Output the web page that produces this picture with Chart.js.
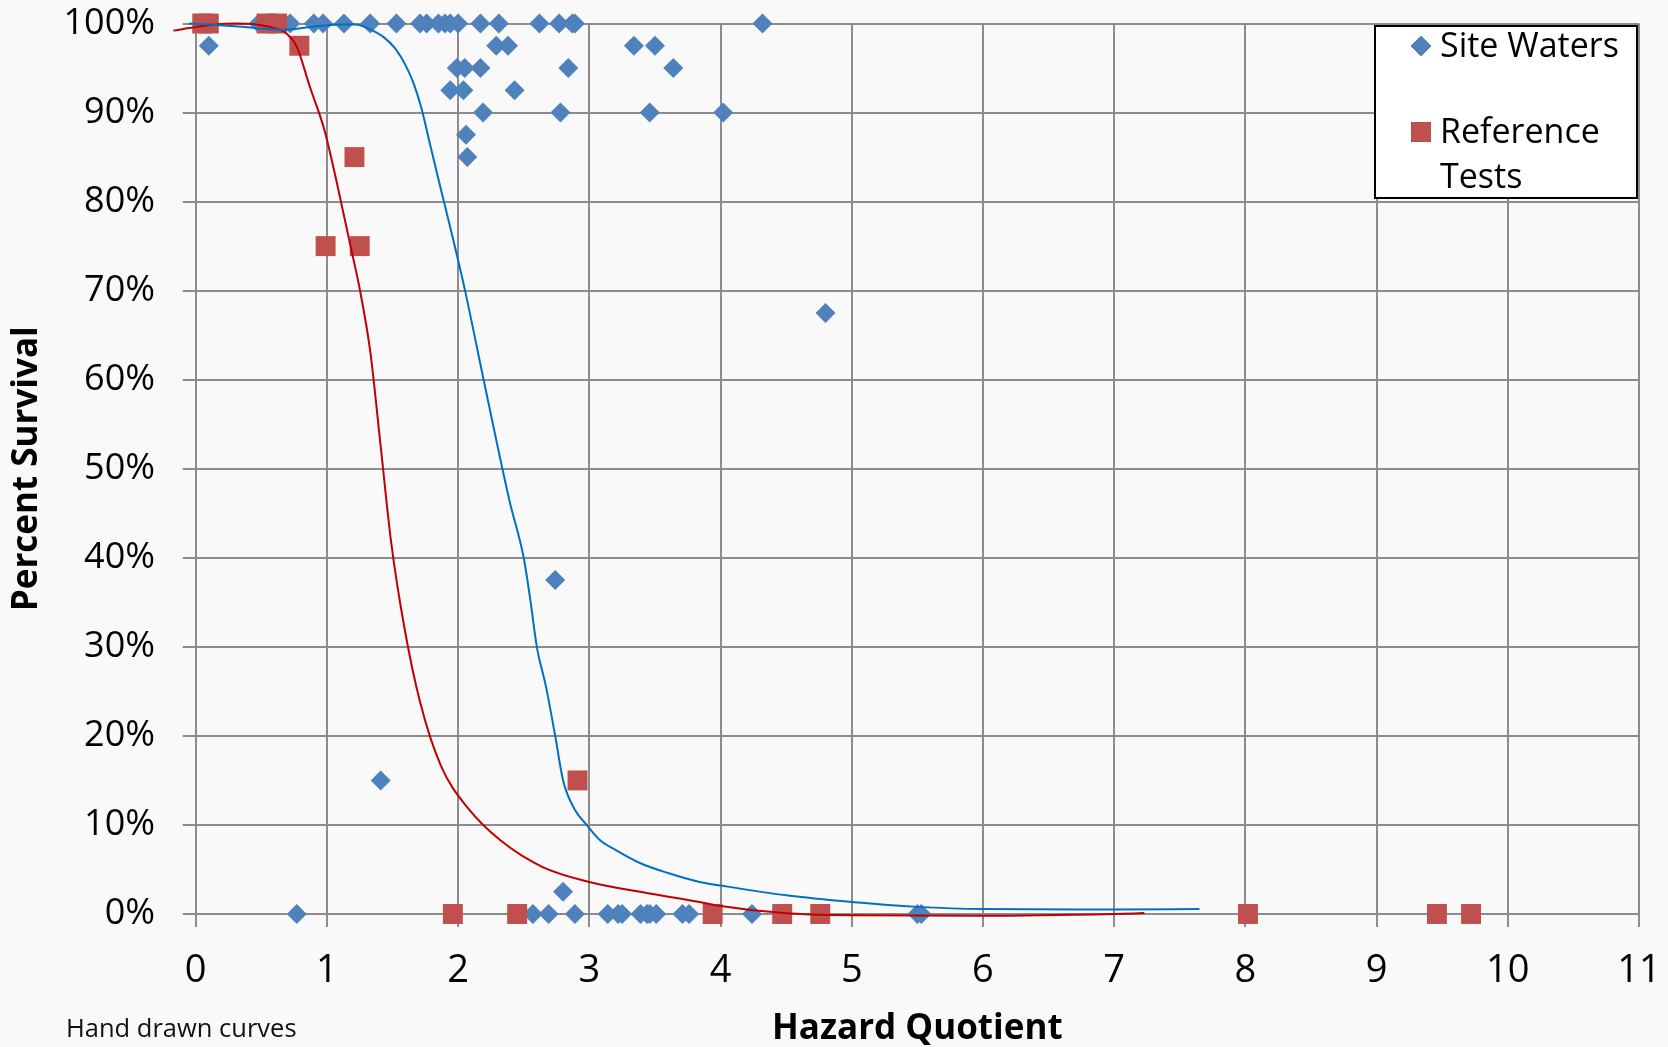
<!DOCTYPE html>
<html>
<head>
<meta charset="utf-8">
<title>Percent Survival vs Hazard Quotient</title>
<script src="https://cdn.jsdelivr.net/npm/chart.js@4.4.1/dist/chart.umd.min.js"></script>
<style>
  html, body { margin: 0; padding: 0; background: #f9f9f9; }
  #wrap { width: 1668px; height: 1047px; position: relative; }
</style>
</head>
<body>
<div id="wrap"><canvas id="chart" width="1668" height="1047"></canvas></div>
<script>
// ---- Axis ticks ----
const xTickValues = [0, 1, 2, 3, 4, 5, 6, 7, 8, 9, 10, 11];
const yTickValues = [0, 10, 20, 30, 40, 50, 60, 70, 80, 90, 100];

// ---- Site waters: hazard quotient and percent survival ----
const siteHQ = [
  0.48, 0.72, 0.90, 0.97, 1.13, 1.33, 1.53, 1.71, 1.76, 1.85, 1.90, 1.94, 2.00, 2.17, 2.31, 2.62, 2.77, 2.87, 2.89, 4.32,
  0.10, 2.29, 2.38, 3.34, 3.50,
  1.99, 2.05, 2.17, 2.84, 3.64,
  1.94, 2.04, 2.43,
  2.19, 2.78, 3.46, 4.02,
  2.06, 2.07,
  4.80, 2.74, 1.41, 2.80,
  0.77, 2.57, 2.69, 2.89, 3.14, 3.22, 3.25, 3.39, 3.44, 3.46, 3.51, 3.71, 3.76, 4.24, 5.50, 5.53
];
const siteSurvival = [
  100, 100, 100, 100, 100, 100, 100, 100, 100, 100, 100, 100, 100, 100, 100, 100, 100, 100, 100, 100,
  97.5, 97.5, 97.5, 97.5, 97.5,
  95, 95, 95, 95, 95,
  92.5, 92.5, 92.5,
  90, 90, 90, 90,
  87.5, 85,
  67.5, 37.5, 15, 2.5,
  0, 0, 0, 0, 0, 0, 0, 0, 0, 0, 0, 0, 0, 0, 0, 0
];

// ---- Reference tests ----
const refHQ = [0.05, 0.10, 0.54, 0.62, 0.79, 1.21, 0.99, 1.25, 2.91, 1.96, 2.45, 3.94, 4.47, 4.76, 8.02, 9.46, 9.72];
const refSurvival = [100, 100, 100, 100, 97.5, 85, 75, 75, 15, 0, 0, 0, 0, 0, 0, 0, 0];

// ---- Hand drawn curves ----
const siteCurveHQ = [-0.05, 0.30, 0.67, 0.87, 1.10, 1.22, 1.32, 1.43, 1.52, 1.60, 1.66, 1.72, 1.78, 1.85, 1.95, 2.05, 2.20, 2.39, 2.50, 2.55, 2.60, 2.67, 2.74, 2.80, 2.89, 2.98, 3.08, 3.20, 3.39, 3.60, 3.84, 4.00, 4.50, 5.00, 5.50, 6.00, 7.00, 7.65];
const siteCurveSurvival = [100, 99.7, 99.3, 99.6, 99.9, 99.9, 99.4, 98.5, 97.2, 95.3, 93.3, 90.5, 86.8, 82.5, 76.5, 70.2, 59.6, 46.5, 40, 35.3, 30, 25.5, 20, 15, 11.7, 10, 8.3, 7.2, 5.7, 4.6, 3.6, 3.2, 2.1, 1.35, 0.8, 0.55, 0.5, 0.55];

const refCurveHQ = [-0.17, 0.00, 0.15, 0.30, 0.46, 0.64, 0.69, 0.77, 0.87, 0.98, 1.07, 1.18, 1.25, 1.33, 1.41, 1.49, 1.59, 1.71, 1.87, 2.08, 2.32, 2.64, 3.00, 3.46, 3.84, 4.00, 4.48, 5.00, 6.00, 7.00, 7.23];
const refCurveSurvival = [99.2, 99.6, 99.9, 100, 99.9, 99.3, 98.9, 97.4, 92.9, 88.1, 82.5, 75.0, 70.2, 63.2, 52.5, 41.7, 32.2, 23.8, 16.6, 11.8, 8.3, 5.3, 3.6, 2.3, 1.35, 0.9, 0.1, -0.15, -0.2, 0.0, 0.1];

const seriesNames = ['Site Waters', 'Reference Tests'];
const markerColors = ['#4F81BD', '#C0504D'];
const curveColors = ['#0070C0', '#C00000'];

const pairs = (xs, ys) => xs.map((x, i) => ({ x: x, y: ys[i] }));

const FONT = "'Open Sans', 'Noto Sans', sans-serif";
const GRID = '#8c8c8c';

// paint the page-grey background behind everything
const backgroundPlugin = {
  id: 'backgroundFill',
  beforeDraw(chart) {
    const ctx = chart.ctx;
    ctx.save();
    ctx.fillStyle = '#f9f9f9';
    ctx.fillRect(0, 0, chart.width, chart.height);
    ctx.restore();
  }
};

// boxed legend in the upper right, labels wrapped onto several lines
const boxLegendPlugin = {
  id: 'boxLegend',
  afterDraw(chart) {
    const ctx = chart.ctx;
    const box = { left: 1375, top: 26, right: 1637, bottom: 198 };
    ctx.save();
    ctx.fillStyle = '#ffffff';
    ctx.fillRect(box.left, box.top, box.right - box.left, box.bottom - box.top);
    ctx.lineWidth = 2;
    ctx.strokeStyle = '#000000';
    ctx.strokeRect(box.left, box.top, box.right - box.left, box.bottom - box.top);

    ctx.font = '34px ' + FONT;
    ctx.textBaseline = 'alphabetic';
    ctx.textAlign = 'left';
    const markerX = 1421, textX = 1440, firstBaseline = 57, itemGap = 86, lineGap = 45, maxWidth = 190;
    const markerSets = chart.data.datasets
      .filter(d => d.showInLegend)
      .sort((a, b) => seriesNames.indexOf(a.label) - seriesNames.indexOf(b.label));
    markerSets.forEach((ds, i) => {
      const base = firstBaseline + i * itemGap;
      // wrap the label by words
      const words = ds.label.split(' ');
      const lines = [];
      let cur = '';
      words.forEach(w => {
        const t = cur ? cur + ' ' + w : w;
        if (ctx.measureText(t).width > maxWidth && cur) { lines.push(cur); cur = w; } else { cur = t; }
      });
      if (cur) lines.push(cur);
      ctx.fillStyle = '#000000';
      lines.forEach((ln, k) => ctx.fillText(ln, textX, base + k * lineGap));
      // marker
      Chart.helpers.drawPoint(ctx, {
        pointStyle: ds.pointStyle,
        radius: ds.pointStyle === 'rect' ? 14.1 : 10,
        rotation: 0,
        borderWidth: 0
      }, markerX, base - 11);
      ctx.fillStyle = ds.backgroundColor;
      ctx.fill();
    });
    ctx.restore();
  }
};

// small note under the plot
const notePlugin = {
  id: 'note',
  afterDraw(chart) {
    const ctx = chart.ctx;
    ctx.save();
    ctx.font = '25.5px ' + FONT;
    ctx.fillStyle = '#111111';
    ctx.textAlign = 'left';
    ctx.textBaseline = 'alphabetic';
    ctx.fillText('Hand drawn curves', 66, 1037);
    ctx.restore();
  }
};

new Chart(document.getElementById('chart'), {
  type: 'scatter',
  data: {
    datasets: [
      {
        label: seriesNames[0] + ' curve',
        type: 'line',
        data: pairs(siteCurveHQ, siteCurveSurvival),
        borderColor: curveColors[0],
        borderWidth: 2,
        pointRadius: 0,
        fill: false,
        cubicInterpolationMode: 'monotone',
        clip: false,
        order: 0
      },
      {
        label: seriesNames[1] + ' curve',
        type: 'line',
        data: pairs(refCurveHQ, refCurveSurvival),
        borderColor: curveColors[1],
        borderWidth: 2,
        pointRadius: 0,
        fill: false,
        cubicInterpolationMode: 'monotone',
        clip: false,
        order: 0
      },
      {
        label: seriesNames[1],
        showInLegend: true,
        data: pairs(refHQ, refSurvival),
        pointStyle: 'rect',
        pointRadius: 14.1,
        backgroundColor: markerColors[1],
        borderWidth: 0,
        clip: false,
        order: 1
      },
      {
        label: seriesNames[0],
        showInLegend: true,
        data: pairs(siteHQ, siteSurvival),
        pointStyle: 'rectRot',
        pointRadius: 10,
        backgroundColor: markerColors[0],
        borderWidth: 0,
        clip: false,
        order: 2
      }
    ]
  },
  options: {
    responsive: false,
    animation: false,
    events: [],
    layout: { padding: { top: 23.5, right: 29, bottom: 0, left: 0 } },
    plugins: {
      legend: { display: false },
      tooltip: { enabled: false }
    },
    scales: {
      x: {
        type: 'linear',
        min: 0,
        max: 11,
        afterBuildTicks: s => { s.ticks = xTickValues.map(v => ({ value: v })); },
        afterFit: s => { s.height = 133; s.paddingLeft = 0; s.paddingRight = 0; },
        grid: { color: GRID, lineWidth: 2, tickLength: 13, tickColor: GRID, drawTicks: true },
        border: { display: false },
        ticks: { color: '#000', font: { family: FONT, size: 38 }, padding: 21, maxRotation: 0, autoSkip: false },
        title: {
          display: true,
          text: 'Hazard Quotient',
          color: '#000',
          font: { family: FONT, size: 35, weight: 'bold', lineHeight: 1 },
          padding: { top: 0, bottom: 0 }
        }
      },
      y: {
        type: 'linear',
        min: 0,
        max: 100,
        afterBuildTicks: s => { s.ticks = yTickValues.map(v => ({ value: v })); },
        afterFit: s => { s.width = 195.7; s.paddingTop = 0; s.paddingBottom = 0; },
        grid: { color: GRID, lineWidth: 2, tickLength: 13, tickColor: GRID, drawTicks: true },
        border: { display: false },
        ticks: { color: '#000', font: { family: FONT, size: 36 }, padding: 27.7, callback: v => v + '%', autoSkip: false },
        title: {
          display: true,
          text: 'Percent Survival',
          color: '#000',
          font: { family: FONT, size: 35, weight: 'bold', lineHeight: 1 },
          padding: { top: 10, bottom: 0 }
        }
      }
    }
  },
  plugins: [backgroundPlugin, boxLegendPlugin, notePlugin]
});
</script>
</body>
</html>
